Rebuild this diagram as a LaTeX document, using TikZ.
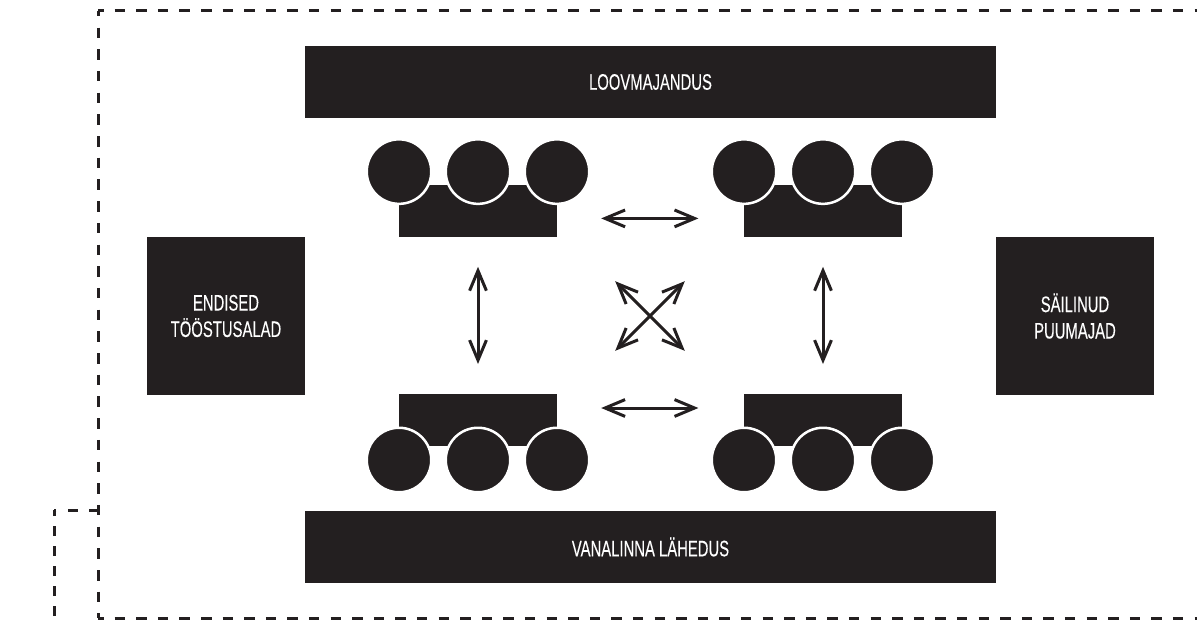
\documentclass[tikz,border=0pt]{standalone}
\usepackage{fontspec}
\setmainfont[FakeStretch=0.66, FakeBold=0.2]{Liberation Sans}
\usetikzlibrary{arrows.meta}
\definecolor{myblockcolor}{HTML}{231f20}
\tikzset{
  blockbar/.style={fill=myblockcolor, text=white, rectangle, align=center, inner sep=0pt, font=\fontsize{16pt}{18.8pt}\selectfont},
  clusterbase/.style={fill=myblockcolor, rectangle, inner sep=0pt, minimum width=3.95cm, minimum height=1.3cm},
  clusterball/.style={fill=myblockcolor, draw=white, line width=0.0625cm, circle, inner sep=0pt, minimum size=1.6125cm},
  twoway/.style={draw=myblockcolor, line width=0.075cm, {Straight Barb[length=0.5cm, width=0.42cm]}-{Straight Barb[length=0.5cm, width=0.42cm]}},
  boundary/.style={draw=myblockcolor, line width=0.075cm, dash pattern=on 0.2625cm off 0.2775cm, dash phase=0.125cm},
}

\begin{document}
\begin{tikzpicture}%
\useasboundingbox (0, 0) rectangle (29.925, -15.525);%
% outer dashed frame
\coordinate (frameTL) at (2.45, -0.27);%
\coordinate (frameTR) at (29.925, -0.27);%
\coordinate (frameBL) at (2.45, -15.45);%
\coordinate (frameBR) at (29.925, -15.45);%
\coordinate (stubA) at (2.45, -12.75);%
\coordinate (stubB) at (1.35, -12.75);%
\coordinate (stubC) at (1.35, -15.4);%
\draw[boundary] (frameTL) -- (frameTR);%
\draw[boundary, dash pattern=on 0.2625cm off 0.28cm] (frameTL) -- (frameBL);%
\draw[boundary] (frameBL) -- (frameBR);%
\draw[boundary, dash pattern=on 0.25cm off 0.25cm, dash phase=0cm] (stubC) -- (stubB);%
\draw[boundary, dash pattern=on 0.25cm off 0.28cm, dash phase=0.02cm] (stubA) -- (stubB);%
% big blocks
\node[blockbar, minimum width=17.275cm, minimum height=1.8cm] (loov) at (16.2625, -2.05) {LOOVMAJANDUS};%
\node[blockbar, minimum width=17.275cm, minimum height=1.8cm] (vana) at (16.2625, -13.675) {VANALINNA LÄHEDUS};%
\node[blockbar, minimum width=3.95cm, minimum height=3.95cm] (endised) at (5.65, -7.9) {ENDISED\\TÖÖSTUSALAD};%
\node[blockbar, minimum width=3.95cm, minimum height=3.95cm] (sailinud) at (26.875, -7.9) {SÄILINUD\\PUUMAJAD};%
% four clusters
\node[clusterbase] (baseNW) at (11.95, -5.275) {};%
\node[clusterbase] (baseNE) at (20.575, -5.275) {};%
\node[clusterbase] (baseSW) at (11.95, -10.5) {};%
\node[clusterbase] (baseSE) at (20.575, -10.5) {};%
\node[clusterball] (ballNWa) at (9.975, -4.29) {};%
\node[clusterball] (ballNWb) at (11.95, -4.29) {};%
\node[clusterball] (ballNWc) at (13.925, -4.29) {};%
\node[clusterball] (ballNEa) at (18.6, -4.29) {};%
\node[clusterball] (ballNEb) at (20.575, -4.29) {};%
\node[clusterball] (ballNEc) at (22.55, -4.29) {};%
\node[clusterball] (ballSWa) at (9.975, -11.5) {};%
\node[clusterball] (ballSWb) at (11.95, -11.5) {};%
\node[clusterball] (ballSWc) at (13.925, -11.5) {};%
\node[clusterball] (ballSEa) at (18.6, -11.5) {};%
\node[clusterball] (ballSEb) at (20.575, -11.5) {};%
\node[clusterball] (ballSEc) at (22.55, -11.5) {};%
% arrow ends
\coordinate (topL) at (15.03, -5.46);%
\coordinate (topR) at (17.46, -5.46);%
\coordinate (lowL) at (15.03, -10.2);%
\coordinate (lowR) at (17.46, -10.2);%
\coordinate (leftT) at (11.95, -6.67);%
\coordinate (leftB) at (11.95, -9.1);%
\coordinate (rightT) at (20.575, -6.67);%
\coordinate (rightB) at (20.575, -9.1);%
\coordinate (crossNW) at (15.38, -7.03);%
\coordinate (crossSE) at (17.12, -8.77);%
\coordinate (crossNE) at (17.12, -7.03);%
\coordinate (crossSW) at (15.38, -8.77);%
\draw[twoway] (topL) -- (topR);%
\draw[twoway] (lowL) -- (lowR);%
\draw[twoway] (leftT) -- (leftB);%
\draw[twoway] (rightT) -- (rightB);%
\draw[twoway] (crossNW) -- (crossSE);%
\draw[twoway] (crossNE) -- (crossSW);%
\end{tikzpicture}
\end{document}
